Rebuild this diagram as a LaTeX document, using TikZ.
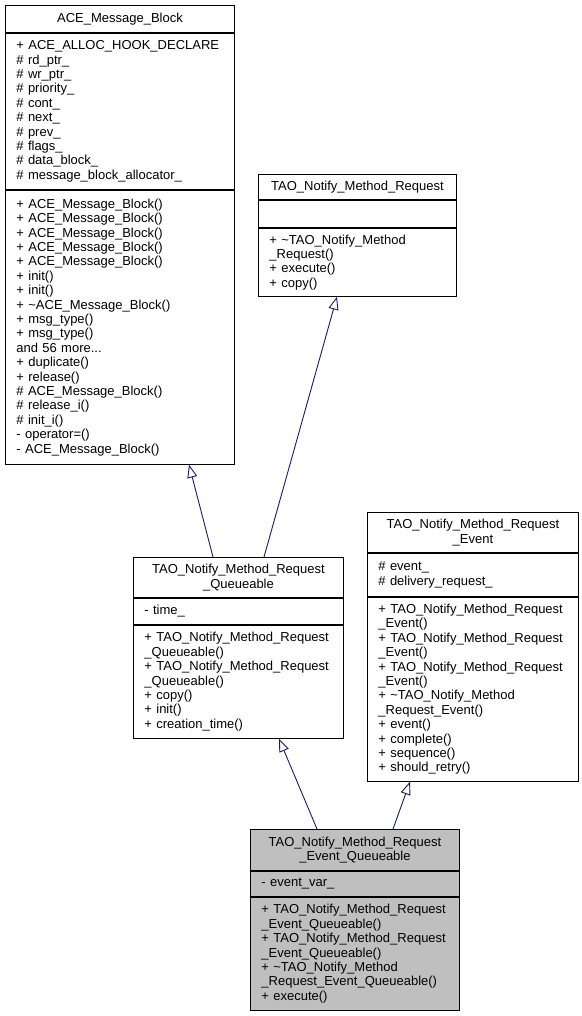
\documentclass[tikz,border=0pt]{standalone}
\usepackage{fontspec}
\setmainfont{Liberation Sans}
\usepackage{xcolor}
\usetikzlibrary{arrows.meta, positioning}
\definecolor{edgeblue}{RGB}{25,25,112}
\definecolor{basegrey}{RGB}{191,191,191}

\begin{document}
\begin{tikzpicture}[x=1pt, y=-1pt,
    cls/.style={draw=black, line width=0.9pt, inner xsep=9pt, inner ysep=0pt, fill=white, font=\fontsize{13}{14.4}\selectfont},
    clshead/.style={cls, align=center},
    clsbody/.style={cls, inner xsep=11pt, align=left},
    inherit/.style={draw=edgeblue, line width=0.9pt, -{Triangle[open, length=13pt, width=10pt]}}]
    \useasboundingbox (0,0) rectangle (581,1016);

    % ACE_Message_Block
    \node[clshead, text width=211pt, minimum height=27pt, anchor=north west] (ace) at (5,5) {ACE\_Message\_Block};
    \node[clsbody, text width=207pt, minimum height=156pt, below=0pt of ace] (aceattr) {+~ACE\_ALLOC\_HOOK\_DECLARE\\\#~rd\_ptr\_\\\#~wr\_ptr\_\\\#~priority\_\\\#~cont\_\\\#~next\_\\\#~prev\_\\\#~flags\_\\\#~data\_block\_\\\#~message\_block\_allocator\_};
    \node[clsbody, text width=207pt, minimum height=274pt, below=0pt of aceattr] (acemeth) {+~ACE\_Message\_Block()\\+~ACE\_Message\_Block()\\+~ACE\_Message\_Block()\\+~ACE\_Message\_Block()\\+~ACE\_Message\_Block()\\+~init()\\+~init()\\+~\textasciitilde ACE\_Message\_Block()\\+~msg\_type()\\+~msg\_type()\\and 56 more...\\+~duplicate()\\+~release()\\\#~ACE\_Message\_Block()\\\#~release\_i()\\\#~init\_i()\\-~operator=()\\-~ACE\_Message\_Block()};

    % TAO_Notify_Method_Request
    \node[clshead, text width=180pt, minimum height=25pt, anchor=north west] (req) at (258,174) {TAO\_Notify\_Method\_Request};
    \node[clsbody, text width=176pt, minimum height=27pt, below=0pt of req] (reqattr) {};
    \node[clsbody, text width=176pt, minimum height=68pt, below=0pt of reqattr] (reqmeth) {+~\textasciitilde TAO\_Notify\_Method\\\_Request()\\+~execute()\\+~copy()};

    % TAO_Notify_Method_Request_Queueable
    \node[clshead, text width=192pt, minimum height=40pt, anchor=north west] (que) at (133,557) {TAO\_Notify\_Method\_Request\\\_Queueable};
    \node[clsbody, text width=188pt, minimum height=26pt, below=0pt of que] (queattr) {-~time\_};
    \node[clsbody, text width=188pt, minimum height=113pt, below=0pt of queattr] (quemeth) {+~TAO\_Notify\_Method\_Request\\\_Queueable()\\+~TAO\_Notify\_Method\_Request\\\_Queueable()\\+~copy()\\+~init()\\+~creation\_time()};

    % TAO_Notify_Method_Request_Event
    \node[clshead, text width=193pt, minimum height=40pt, anchor=north west] (evt) at (367,512) {TAO\_Notify\_Method\_Request\\\_Event};
    \node[clsbody, text width=189pt, minimum height=43pt, below=0pt of evt] (evtattr) {\#~event\_\\\#~delivery\_request\_};
    \node[clsbody, text width=189pt, minimum height=184pt, below=0pt of evtattr] (evtmeth) {+~TAO\_Notify\_Method\_Request\\\_Event()\\+~TAO\_Notify\_Method\_Request\\\_Event()\\+~TAO\_Notify\_Method\_Request\\\_Event()\\+~\textasciitilde TAO\_Notify\_Method\\\_Request\_Event()\\+~event()\\+~complete()\\+~sequence()\\+~should\_retry()};

    % TAO_Notify_Method_Request_Event_Queueable
    \node[clshead, fill=basegrey, text width=191pt, minimum height=41pt, anchor=north west] (evq) at (250,829) {TAO\_Notify\_Method\_Request\\\_Event\_Queueable};
    \node[clsbody, fill=basegrey, text width=187pt, minimum height=25pt, below=0pt of evq] (evqattr) {-~event\_var\_};
    \node[clsbody, fill=basegrey, text width=187pt, minimum height=113pt, below=0pt of evqattr] (evqmeth) {+~TAO\_Notify\_Method\_Request\\\_Event\_Queueable()\\+~TAO\_Notify\_Method\_Request\\\_Event\_Queueable()\\+~\textasciitilde TAO\_Notify\_Method\\\_Request\_Event\_Queueable()\\+~execute()};

    % 继承
    \draw[inherit] ([xshift=80pt]que.north west) -- ([xshift=184pt]acemeth.south west);
    \draw[inherit] ([xshift=131pt]que.north west) -- ([xshift=79pt]reqmeth.south west);
    \draw[inherit] ([xshift=67pt]evq.north west) -- ([xshift=146pt]quemeth.south west);
    \draw[inherit] ([xshift=143pt]evq.north west) -- ([xshift=43pt]evtmeth.south west);
\end{tikzpicture}
\end{document}
